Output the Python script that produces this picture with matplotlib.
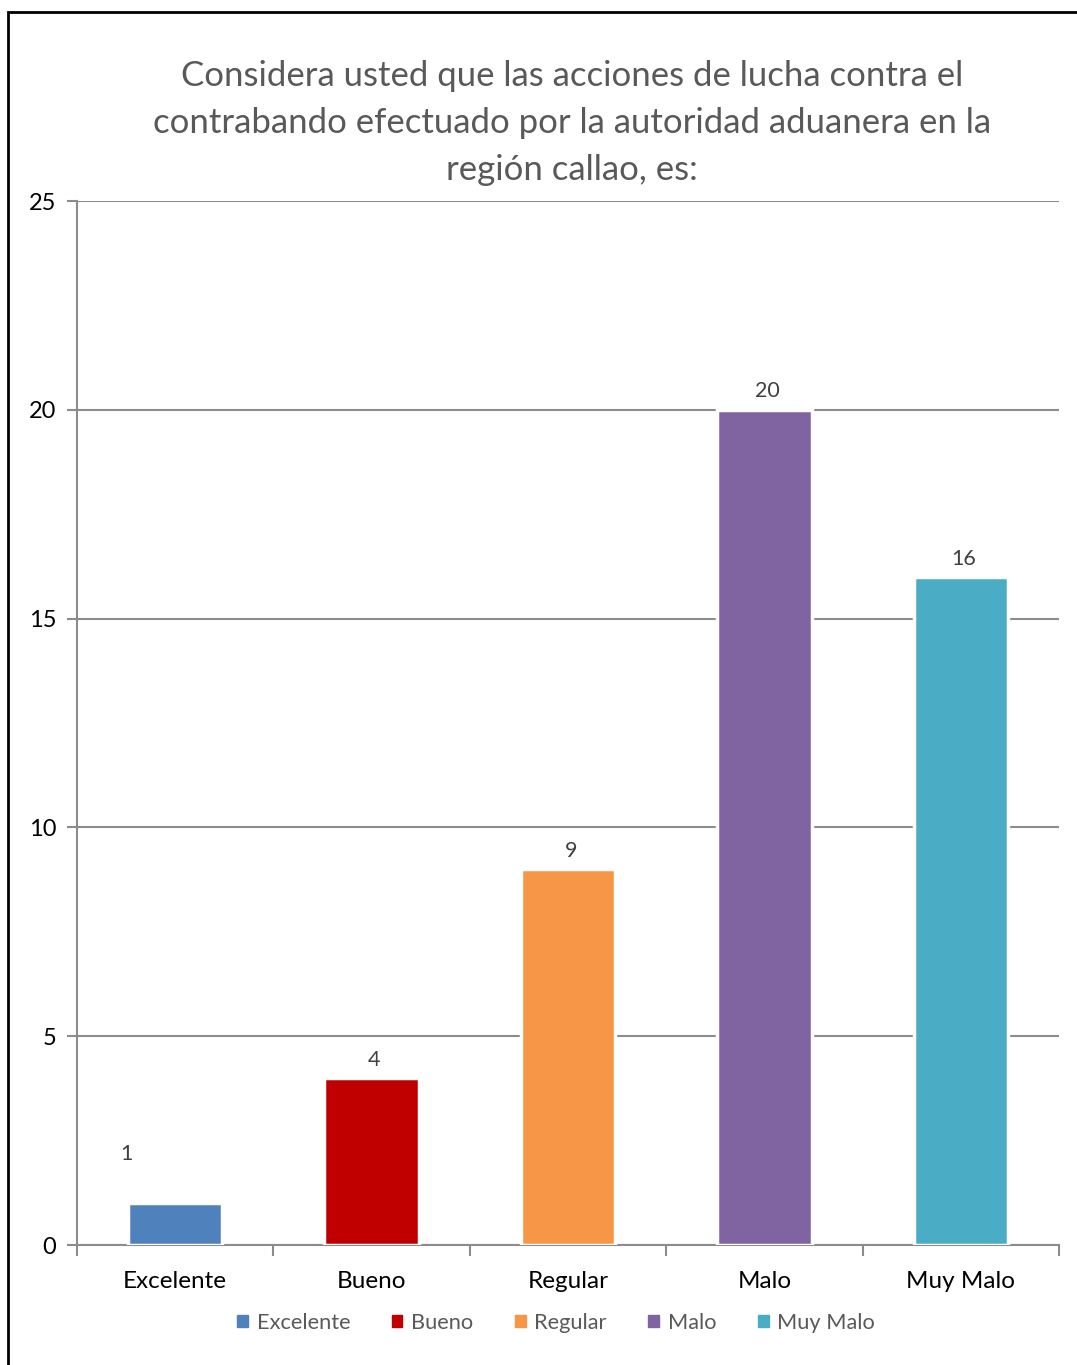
import numpy as np
import matplotlib.pyplot as plt
import matplotlib.patches as mpatches

categories = ["Excelente", "Bueno", "Regular", "Malo", "Muy Malo"]
values = [1, 4, 9, 20, 16]
colors = ["#4F81BD", "#C00000", "#F79646", "#8064A2", "#4BACC6"]
yticks = [0, 5, 10, 15, 20, 25]
title = ("Considera usted que las acciones de lucha contra el\n"
         "contrabando efectuado por la autoridad aduanera en la\n"
         "región callao, es:")

plt.rcParams['font.family'] = ['Lato', 'DejaVu Sans']

fig = plt.figure(figsize=(10.77, 13.65), dpi=100)
ax = fig.add_axes([77 / 1077, 1 - 1245 / 1365, (1059 - 77) / 1077, (1245 - 201) / 1365])

x = np.arange(len(categories))
bars = ax.bar(x, values, width=0.48, color=colors, edgecolor="white",
              linewidth=2.5, zorder=3, label=categories)

ax.set_xlim(-0.5, len(categories) - 0.5)
ax.set_ylim(0, 25)
ax.set_yticks(yticks)
ax.yaxis.grid(True, color="#8c8c8c", linewidth=1.5, zorder=0)
ax.set_axisbelow(True)

for s in ["top", "right"]:
    ax.spines[s].set_visible(False)
for s in ["left", "bottom"]:
    ax.spines[s].set_color("#8c8c8c")
    ax.spines[s].set_linewidth(1.5)

ax.tick_params(axis="y", length=7, width=1.5, color="#8c8c8c", labelsize=17, pad=8)
ax.set_xticks(x)
ax.set_xticklabels(categories, fontsize=17.5)
ax.tick_params(axis="x", which="major", length=0, pad=19)
ax.set_xticks(np.arange(-0.5, len(categories)), minor=True)
ax.tick_params(axis="x", which="minor", length=8, width=1.5, color="#8c8c8c")

# value labels
for i, (b, v) in enumerate(zip(bars, values)):
    if i == 0:
        ax.annotate(str(v), (b.get_x() + b.get_width() / 2, v), xytext=(-35, 28),
                    textcoords="offset points", ha="center", va="bottom",
                    fontsize=15.5, color="#404040")
    else:
        ax.annotate(str(v), (b.get_x() + b.get_width() / 2, v), xytext=(2, 6),
                    textcoords="offset points", ha="center", va="bottom",
                    fontsize=15.5, color="#404040")

fig.text(572 / 1077, 1 - 123 / 1365, title, ha="center", va="center",
         fontsize=25, color="#595959", linespacing=1.56)

handles = [mpatches.Patch(color=c, label=n) for c, n in zip(colors, categories)]
fig.legend(handles=handles, loc="center", bbox_to_anchor=(556 / 1077, 1 - 1323 / 1365),
           ncol=5, frameon=False, fontsize=15.7, handlelength=0.5, handleheight=0.5,
           handletextpad=0.4, columnspacing=1.9, labelcolor="#595959")

frame = mpatches.Rectangle((8 / 1077, -0.01), 1.0, 1 - 12 / 1365 + 0.01,
                           transform=fig.transFigure, fill=False, edgecolor="black",
                           linewidth=2, clip_on=False)
fig.patches.append(frame)

fig.savefig("out.png", dpi=100)
plt.close()
